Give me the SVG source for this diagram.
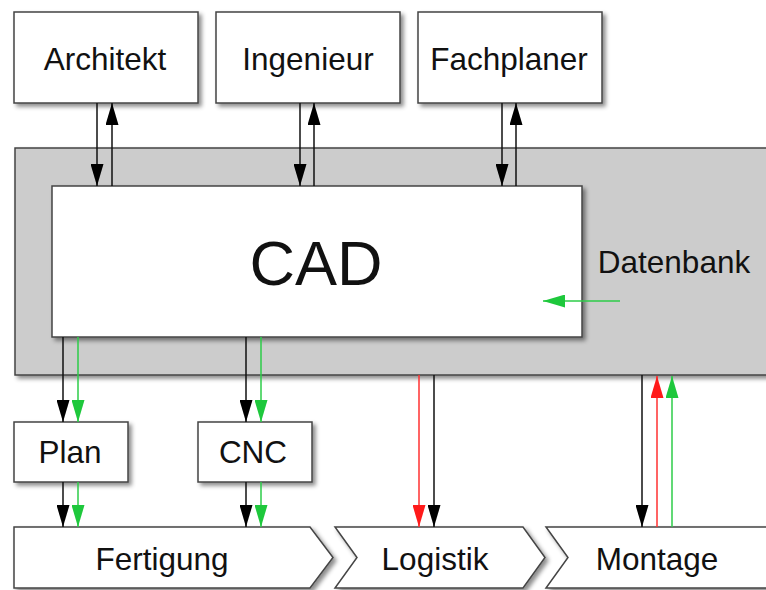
<svg xmlns="http://www.w3.org/2000/svg" width="766" height="590" viewBox="0 0 766 590">
<defs>
<filter id="sh" x="-10%" y="-10%" width="130%" height="130%">
<feDropShadow dx="3" dy="3" stdDeviation="2" flood-color="#000" flood-opacity="0.45"/>
</filter>
<marker id="ahK" markerUnits="userSpaceOnUse" markerWidth="22" markerHeight="13" refX="22" refY="6.5" orient="auto"><path d="M0,0 L22,6.5 L0,13 Z" fill="#000"/></marker>
<marker id="ahR" markerUnits="userSpaceOnUse" markerWidth="22" markerHeight="13" refX="22" refY="6.5" orient="auto"><path d="M0,0 L22,6.5 L0,13 Z" fill="#ff1a1a"/></marker>
<marker id="ahG" markerUnits="userSpaceOnUse" markerWidth="22" markerHeight="13" refX="22" refY="6.5" orient="auto"><path d="M0,0 L22,6.5 L0,13 Z" fill="#1ec83c"/></marker>
</defs>
<style>
.box{fill:#fff;stroke:#444;stroke-width:1.5;filter:url(#sh)}
.db{fill:#cccccc;stroke:#444;stroke-width:1.5;filter:url(#sh)}
.t{font-family:"Liberation Sans",Arial,sans-serif;font-size:31.5px;fill:#111;text-anchor:middle}
.k{stroke:#111;stroke-width:1.5;fill:none;marker-end:url(#ahK)}
.r{stroke:#ff3030;stroke-width:1.5;fill:none;marker-end:url(#ahR)}
.g{stroke:#2ccc48;stroke-width:1.5;fill:none;marker-end:url(#ahG)}
</style>
<rect width="766" height="590" fill="#fff"/>
<g id="datenbank">
<rect class="db" x="15" y="148" width="760" height="227"/>
<text class="t" x="674" y="273">Datenbank</text>
</g>
<g id="cad">
<rect class="box" x="52" y="186" width="530" height="151"/>
<text class="t" x="316" y="285" style="font-size:63px">CAD</text>
</g>
<g id="architekt">
<rect class="box" x="14" y="12" width="184" height="91"/>
<text class="t" x="105" y="70">Architekt</text>
</g>
<g id="ingenieur">
<rect class="box" x="216" y="12" width="184" height="91"/>
<text class="t" x="308" y="70">Ingenieur</text>
</g>
<g id="fachplaner">
<rect class="box" x="418" y="12" width="184" height="91"/>
<text class="t" x="509" y="70">Fachplaner</text>
</g>
<g id="plan">
<rect class="box" x="14" y="422" width="114" height="60"/>
<text class="t" x="70" y="463">Plan</text>
</g>
<g id="cnc">
<rect class="box" x="198" y="422" width="114" height="60"/>
<text class="t" x="253" y="463">CNC</text>
</g>
<g id="fertigung">
<path class="box" d="M14,527 L310,527 L333,557.5 L310,588 L14,588 Z"/>
<text class="t" x="162" y="570">Fertigung</text>
</g>
<g id="logistik">
<path class="box" d="M335,527 L523,527 L545,557.5 L523,588 L335,588 L357,557.5 Z"/>
<text class="t" x="435" y="570">Logistik</text>
</g>
<g id="montage">
<path class="box" d="M546,527 L775,527 L775,588 L546,588 L568,557.5 Z"/>
<text class="t" x="657" y="570">Montage</text>
</g>
<g id="connectors">
<line class="k" x1="97" y1="103" x2="97" y2="186"/>
<line class="k" x1="112" y1="186" x2="112" y2="103"/>
<line class="k" x1="300" y1="103" x2="300" y2="186"/>
<line class="k" x1="314" y1="186" x2="314" y2="103"/>
<line class="k" x1="502" y1="103" x2="502" y2="186"/>
<line class="k" x1="516" y1="186" x2="516" y2="103"/>
<line class="g" x1="620" y1="301" x2="543" y2="301"/>
<line class="k" x1="63" y1="337" x2="63" y2="422"/>
<line class="g" x1="78" y1="337" x2="78" y2="422"/>
<line class="k" x1="246" y1="337" x2="246" y2="422"/>
<line class="g" x1="261" y1="337" x2="261" y2="422"/>
<line class="k" x1="63" y1="482" x2="63" y2="527"/>
<line class="g" x1="78" y1="482" x2="78" y2="527"/>
<line class="k" x1="246" y1="482" x2="246" y2="527"/>
<line class="g" x1="261" y1="482" x2="261" y2="527"/>
<line class="r" x1="419" y1="375" x2="419" y2="527"/>
<line class="k" x1="434" y1="375" x2="434" y2="527"/>
<line class="k" x1="642" y1="375" x2="642" y2="527"/>
<line class="r" x1="657" y1="527" x2="657" y2="376"/>
<line class="g" x1="672" y1="527" x2="672" y2="376"/>
</g>
</svg>
